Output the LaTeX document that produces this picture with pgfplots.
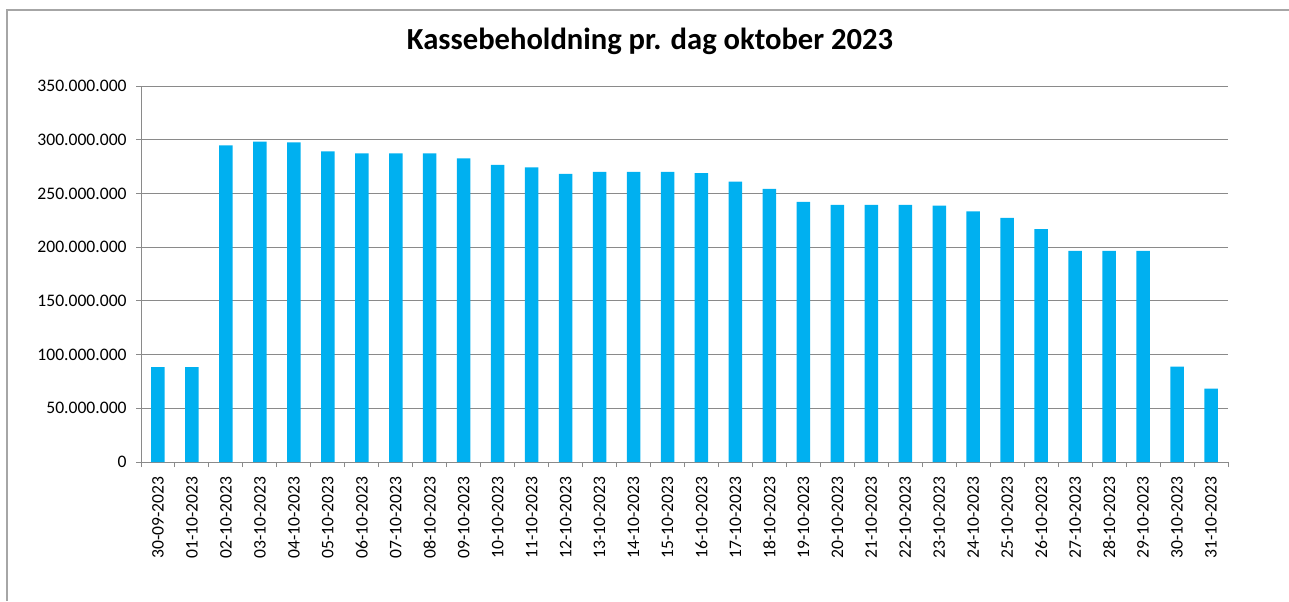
\documentclass[border=0pt]{standalone}
\usepackage{fontspec}
\setmainfont{Carlito}
\usepackage{pgfplots}
\pgfplotsset{compat=1.18}
\definecolor{barblue}{HTML}{00B0F0}
\definecolor{gridgray}{HTML}{8A8A8A}
\definecolor{framegray}{HTML}{A6A6A6}
\begin{document}
\begin{tikzpicture}
\useasboundingbox (0,0) rectangle (644.5pt,300.5pt);
\draw[framegray, line width=0.7pt] (3.5pt,0) -- (3.5pt,295.5pt) -- (644.5pt,295.5pt);
\node[font=\bfseries\fontsize{15.3pt}{18pt}\selectfont, anchor=base] at (325pt,275.5pt) {Kassebeholdning pr. dag oktober 2023};
\begin{axis}[
  at={(70.5pt,69.5pt)}, anchor=south west,
  scale only axis, width=543.5pt, height=188pt,
  xmin=-0.5, xmax=31.5, ymin=0, ymax=350000000,
  axis lines*=left,
  axis line style={gridgray, line width=0.5pt},
  tick align=outside,
  major tick length=2.5pt, minor tick length=2.5pt,
  tick style={gridgray, line width=0.5pt},
  every major x tick/.append style={draw=none},
  xtick={0,1,2,3,4,5,6,7,8,9,10,11,12,13,14,15,16,17,18,19,20,21,22,23,24,25,26,27,28,29,30,31},
  xticklabels={30-09-2023,01-10-2023,02-10-2023,03-10-2023,04-10-2023,05-10-2023,06-10-2023,07-10-2023,08-10-2023,09-10-2023,10-10-2023,11-10-2023,12-10-2023,13-10-2023,14-10-2023,15-10-2023,16-10-2023,17-10-2023,18-10-2023,19-10-2023,20-10-2023,21-10-2023,22-10-2023,23-10-2023,24-10-2023,25-10-2023,26-10-2023,27-10-2023,28-10-2023,29-10-2023,30-10-2023,31-10-2023},
  minor xtick={-0.5,0.5,...,31.5},
  xticklabel style={rotate=90, anchor=east, font=\fontsize{8.8pt}{10pt}\selectfont, inner sep=0pt, xshift=-4.5pt, yshift=0pt},
  ytick={0,50000000,100000000,150000000,200000000,250000000,300000000,350000000},
  scaled y ticks=false,
  yticklabel style={/pgf/number format/.cd, fixed, precision=0, 1000 sep={.}, assume math mode=true, /tikz/.cd, font=\fontsize{8.8pt}{10pt}\selectfont, inner sep=0pt, xshift=-4.5pt},
  ymajorgrids,
  major grid style={gridgray, line width=0.5pt},
]
\addplot[ybar, bar width=6.75pt, fill=barblue, draw=none] coordinates {
(0,88300000) (1,88300000) (2,294800000) (3,298200000) (4,297600000) (5,289200000)
(6,287300000) (7,287300000) (8,287300000) (9,282700000) (10,276500000) (11,274300000)
(12,268100000) (13,270000000) (14,270000000) (15,270000000) (16,268800000) (17,261000000)
(18,254200000) (19,242100000) (20,239300000) (21,239300000) (22,239300000) (23,238700000)
(24,233400000) (25,227200000) (26,216700000) (27,196500000) (28,196500000) (29,196500000)
(30,88700000) (31,68200000)
};
\end{axis}
\end{tikzpicture}
\end{document}
